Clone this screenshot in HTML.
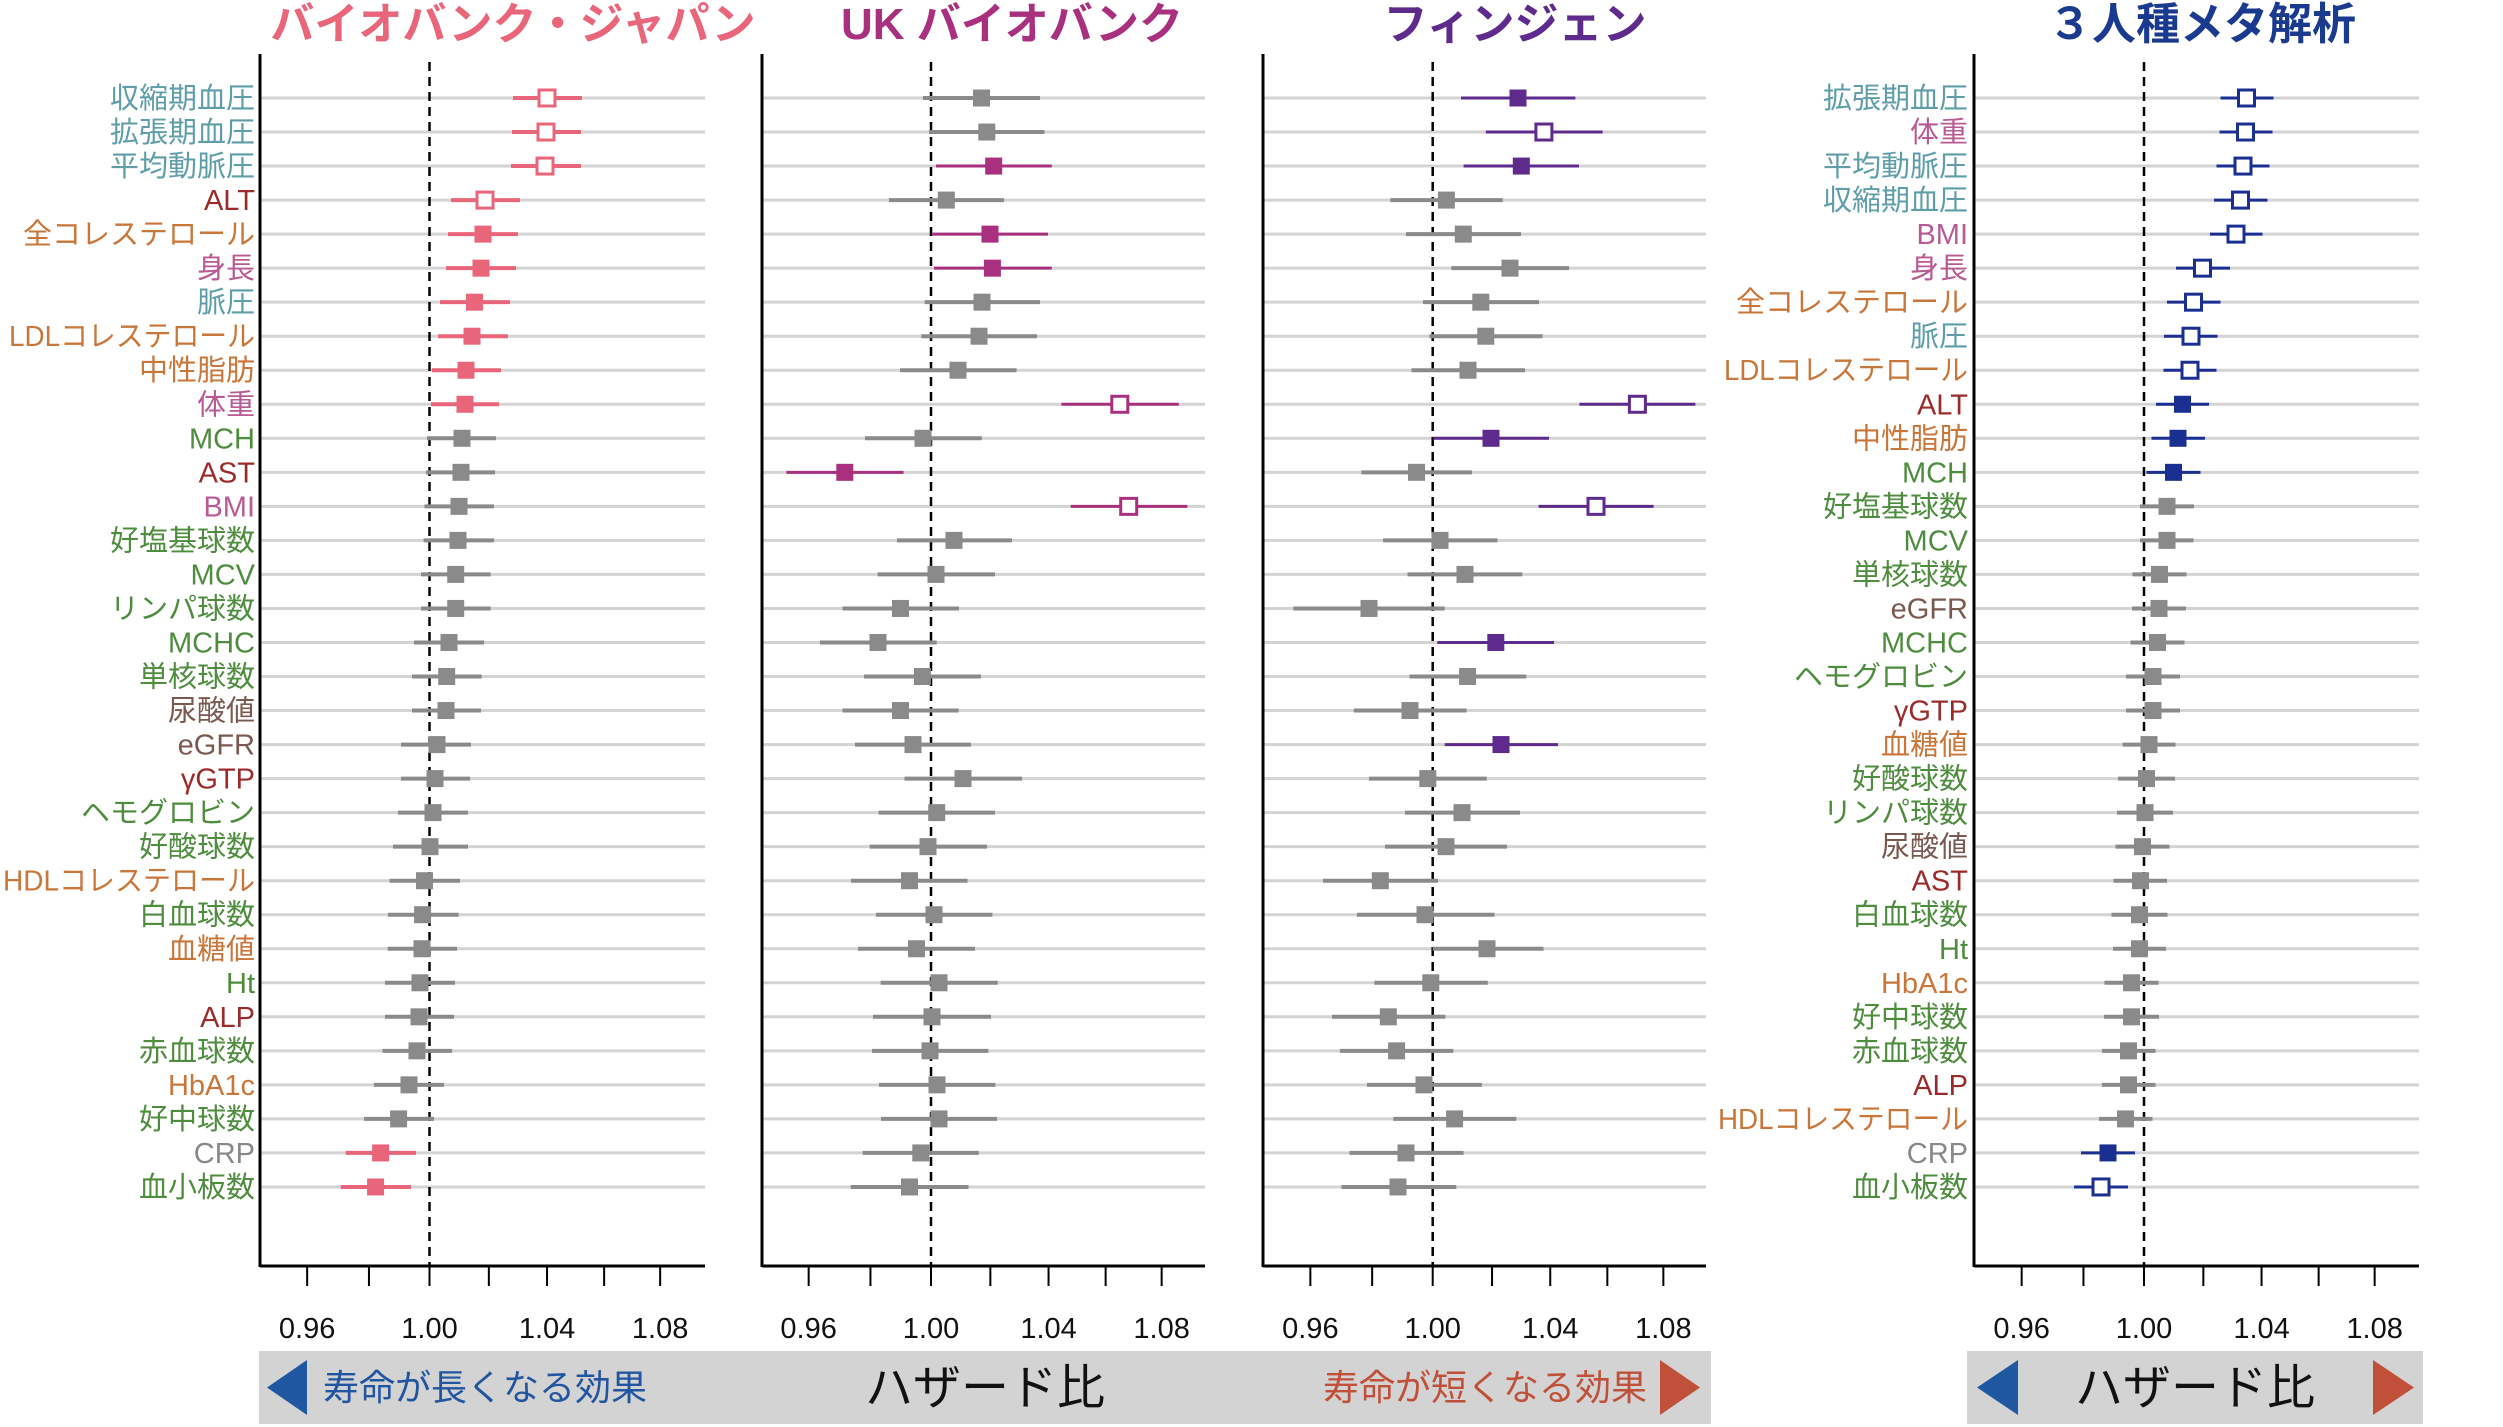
<!DOCTYPE html>
<html><head><meta charset="utf-8"><style>
html,body{margin:0;padding:0;background:#fff;}
svg{display:block;}
text{font-family:"Liberation Sans","Noto Sans CJK JP",sans-serif;}
</style></head><body>
<svg id="s" width="2503" height="1427" viewBox="0 0 2503 1427" xmlns="http://www.w3.org/2000/svg">
<rect width="2503" height="1427" fill="#fff"/>
<text x="513" y="39" text-anchor="middle" font-size="44" font-weight="bold" fill="#e8657a">バイオバンク・ジャパン</text>
<text x="1012" y="39" text-anchor="middle" font-size="44" font-weight="bold" fill="#a8307f">UK バイオバンク</text>
<text x="1515" y="39" text-anchor="middle" font-size="44" font-weight="bold" fill="#5e2a8c">フィンジェン</text>
<text x="2202" y="39" text-anchor="middle" font-size="44" font-weight="bold" fill="#1a3a8f">３人種メタ解析</text>
<rect x="259" y="1351" width="1452" height="73" fill="#d3d3d3"/>
<rect x="1967" y="1351" width="456" height="73" fill="#d3d3d3"/>
<polygon points="307,1360 307,1415 267,1387.5" fill="#1f58a0"/>
<text x="323" y="1400" font-size="36" fill="#2255a0">寿命が長くなる効果</text>
<text x="985" y="1404" text-anchor="middle" font-size="48" fill="#111">ハザード比</text>
<text x="1647" y="1400" text-anchor="end" font-size="36" fill="#c0503a">寿命が短くなる効果</text>
<polygon points="1660,1360 1660,1415 1700,1387.5" fill="#c0503a"/>
<polygon points="2018,1360 2018,1415 1977,1387.5" fill="#1f58a0"/>
<text x="2195" y="1404" text-anchor="middle" font-size="48" fill="#111">ハザード比</text>
<polygon points="2373,1360 2373,1415 2414,1387.5" fill="#c0503a"/>
<g id="g"></g>
</svg>
<script>
var C={t:"#5f9ea9",r:"#9b2b2b",o:"#c8763a",p:"#b85a94",g:"#4e8c3e",b:"#7a5a50",c:"#888888"};
var L1=[["収縮期血圧","t"],["拡張期血圧","t"],["平均動脈圧","t"],["ALT","r"],["全コレステロール","o"],["身長","p"],["脈圧","t"],["LDLコレステロール","o",246],["中性脂肪","o"],["体重","p"],["MCH","g"],["AST","r"],["BMI","p"],["好塩基球数","g"],["MCV","g"],["リンパ球数","g"],["MCHC","g"],["単核球数","g"],["尿酸値","b"],["eGFR","b"],["γGTP","r"],["ヘモグロビン","g"],["好酸球数","g"],["HDLコレステロール","o",252],["白血球数","g"],["血糖値","o"],["Ht","g"],["ALP","r"],["赤血球数","g"],["HbA1c","o"],["好中球数","g"],["CRP","c"],["血小板数","g"]];
var L4=[["拡張期血圧","t"],["体重","p"],["平均動脈圧","t"],["収縮期血圧","t"],["BMI","p"],["身長","p"],["全コレステロール","o"],["脈圧","t"],["LDLコレステロール","o",244],["ALT","r"],["中性脂肪","o"],["MCH","g"],["好塩基球数","g"],["MCV","g"],["単核球数","g"],["eGFR","b"],["MCHC","g"],["ヘモグロビン","g"],["γGTP","r"],["血糖値","o"],["好酸球数","g"],["リンパ球数","g"],["尿酸値","b"],["AST","r"],["白血球数","g"],["Ht","g"],["HbA1c","o"],["好中球数","g"],["赤血球数","g"],["ALP","r"],["HDLコレステロール","o",250],["CRP","c"],["血小板数","g"]];
var D1=[[547,513,582,"o"],[546,512,581,"o"],[545,511,581,"o"],[485,451,520,"o"],[483,448,518,"f"],[481,446,516,"f"],[474.5,440,510,"f"],[472,438,508,"f"],[466,432,501,"f"],[465,431,499,"f"],[462,427,496,"g"],[461,426,495,"g"],[459,424.5,494,"g"],[458,423.6,494,"g"],[455.7,421,490.6,"g"],[455.7,421,490.6,"g"],[449,414,484,"g"],[446.7,412,481.6,"g"],[446,412,481,"g"],[437,401,471,"g"],[435,401,470,"g"],[433,398,468,"g"],[430,393,468,"g"],[424.5,389.6,460,"g"],[422.6,388,458.5,"g"],[422,387.7,457,"g"],[420,385,455,"g"],[419,385,454,"g"],[417,382.5,452,"g"],[409,374,444,"g"],[398.6,364,434,"g"],[380.6,345.8,416,"f"],[375.6,340.8,411,"f"]];
var D2=[[981.5,923,1040,"g"],[986.8,929,1044.5,"g"],[993.7,936,1051.8,"f"],[946.3,889,1004,"g"],[990,932,1048,"f"],[992.4,934,1051.8,"f"],[982,924.7,1040,"g"],[979,921.4,1037,"g"],[958,900,1016.6,"g"],[1119.8,1061.4,1178.8,"o"],[923,865,981.8,"g"],[844.8,786.4,903.5,"f"],[1128.7,1070.7,1187.4,"o"],[954,897,1012,"g"],[936,877.6,995,"g"],[900.5,842.5,959,"g"],[878,820,936.7,"g"],[922.4,864,981,"g"],[900.5,842.5,958.6,"g"],[913,855,971,"g"],[963,904.5,1022,"g"],[936.7,878.6,995,"g"],[928,869.7,987,"g"],[909.5,851,967.5,"g"],[934,876,992.4,"g"],[916.5,858,975,"g"],[939,880.6,997.7,"g"],[932,873,991,"g"],[930,872,988.4,"g"],[937,879,995.4,"g"],[939,881,997,"g"],[920.8,862.7,978.8,"g"],[909.5,850.8,968.5,"g"]];
var D3=[[1518,1461,1575.4,"f"],[1543.9,1485.8,1602.6,"o"],[1521.3,1463.6,1579,"f"],[1446.4,1390.3,1502.7,"g"],[1463.3,1406,1521,"g"],[1510,1451.3,1569,"g"],[1480.8,1423,1539,"g"],[1485.8,1429.4,1542.5,"g"],[1468,1411.5,1525,"g"],[1637.4,1579.4,1695.4,"o"],[1491,1433.4,1549,"f"],[1416.5,1361.4,1472,"g"],[1596,1538.6,1653.6,"o"],[1440,1383,1497.4,"g"],[1465,1407.5,1522.3,"g"],[1369,1293.4,1444.7,"g"],[1495.8,1437.4,1554,"f"],[1467.6,1409.5,1526.3,"g"],[1410,1353.8,1466.6,"g"],[1501,1444.7,1558,"f"],[1427.8,1369,1486.8,"g"],[1462,1405,1520,"g"],[1446,1385,1507,"g"],[1380.3,1323,1438,"g"],[1425,1357,1494.4,"g"],[1487,1432.7,1543.5,"g"],[1430.8,1374.4,1487.8,"g"],[1388.3,1332,1445.4,"g"],[1396.6,1340,1453.3,"g"],[1424,1367,1481.8,"g"],[1454.6,1393.3,1516.3,"g"],[1406,1349.5,1463.6,"g"],[1398,1341.5,1456.3,"g"]];
var D4=[[2246.5,2220.5,2273.5,"o"],[2245.5,2219.5,2272.5,"o"],[2243,2216.5,2269.5,"o"],[2240.5,2214,2267.5,"o"],[2236,2210,2262.5,"o"],[2202.5,2176,2230,"o"],[2193.5,2167,2220.5,"o"],[2191,2164,2217.5,"o"],[2190,2163.5,2216.5,"o"],[2182.5,2156,2209,"f"],[2178,2151.5,2205,"f"],[2173.5,2146.5,2200.5,"f"],[2167,2140,2194,"g"],[2167,2140,2193.5,"g"],[2159.5,2132.5,2186.5,"g"],[2159,2132,2186,"g"],[2157.5,2130.5,2184.5,"g"],[2153,2126,2180,"g"],[2153,2126,2180,"g"],[2149,2122.5,2175.5,"g"],[2146.5,2118,2175,"g"],[2145,2117,2173,"g"],[2142.5,2115.5,2169.5,"g"],[2140.5,2113.5,2167,"g"],[2139.5,2111.5,2167.5,"g"],[2139.5,2113,2166,"g"],[2131.5,2104.5,2158.5,"g"],[2131.5,2104,2159,"g"],[2128.5,2102,2155.5,"g"],[2128.5,2102,2155.5,"g"],[2125.5,2099,2152.5,"g"],[2108,2081,2135,"f"],[2101,2074,2128,"o"]];
var P=[{l:260,d:429.5,r:705,D:D1,c:"#e8657a",w:4},{l:762,d:931,r:1205,D:D2,c:"#a8307f",w:3},{l:1263,d:1432.7,r:1706,D:D3,c:"#5e2a8c",w:3},{l:1974,d:2144,r:2419,D:D4,c:"#1a2f8f",w:3}];
var h="";
function Y(i){return 98+34.03*i;}
P.forEach(function(p,k){
  for(var i=0;i<33;i++){var y=Y(i);h+='<line x1="'+p.l+'" x2="'+p.r+'" y1="'+y+'" y2="'+y+'" stroke="#d3d3d3" stroke-width="3"/>';}
  h+='<line x1="'+p.d+'" x2="'+p.d+'" y1="62" y2="1266" stroke="#000" stroke-width="2.5" stroke-dasharray="9,6"/>';
  for(var i=0;i<33;i++){var y=Y(i),e=p.D[i],col=e[3]=="g"?"#8a8a8a":p.c;
    h+='<line x1="'+e[1]+'" x2="'+e[2]+'" y1="'+y+'" y2="'+y+'" stroke="'+col+'" stroke-width="'+(e[3]=="g"?4:p.w)+'"/>';
    if(e[3]=="o") h+='<rect x="'+(e[0]-8)+'" y="'+(y-8)+'" width="16" height="16" fill="#fff" stroke="'+col+'" stroke-width="3"/>';
    else h+='<rect x="'+(e[0]-8.5)+'" y="'+(y-8.5)+'" width="17" height="17" fill="'+col+'"/>';
  }
  h+='<line x1="'+p.l+'" x2="'+p.l+'" y1="54" y2="1267" stroke="#000" stroke-width="3"/>';
  h+='<line x1="'+p.l+'" x2="'+p.r+'" y1="1266" y2="1266" stroke="#000" stroke-width="3"/>';
  [0.96,0.98,1.00,1.02,1.04,1.06,1.08].forEach(function(v){var x=p.d+2997*Math.log(v);
    h+='<line x1="'+x+'" x2="'+x+'" y1="1266" y2="1286" stroke="#000" stroke-width="2"/>';
    if([0.96,1.00,1.04,1.08].indexOf(v)>=0) h+='<text x="'+x+'" y="1338" text-anchor="middle" font-size="29" fill="#111">'+v.toFixed(2)+'</text>';
  });
});
function labels(L,x){L.forEach(function(a,i){var tl=a[2]?' textLength="'+a[2]+'" lengthAdjust="spacingAndGlyphs"':'';h+='<text x="'+x+'" y="'+(Y(i)+10)+'" text-anchor="end" font-size="29"'+tl+' fill="'+C[a[1]]+'">'+a[0]+'</text>';});}
labels(L1,255);labels(L4,1968);
document.getElementById("g").innerHTML=h;
</script>
</body></html>
